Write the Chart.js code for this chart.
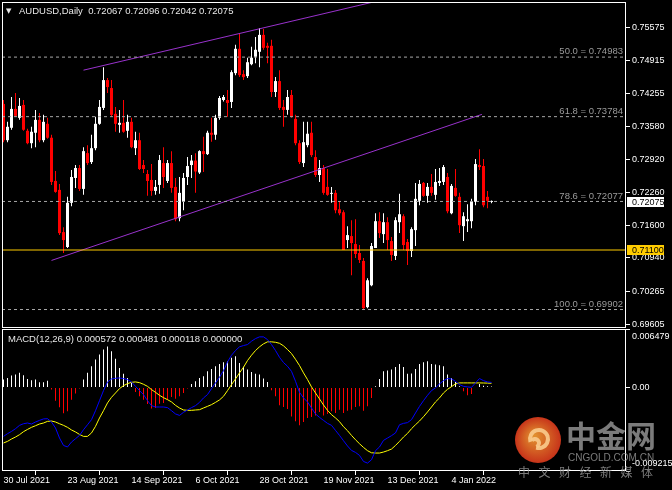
<!DOCTYPE html>
<html>
<head>
<meta charset="utf-8">
<script src="https://cdn.jsdelivr.net/npm/chart.js@4.4.0/dist/chart.umd.min.js"></script>
<style>
    html, body { margin: 0; padding: 0; background: #000; }
    #tela { position: relative; width: 672px; height: 490px; background: #000; overflow: hidden; }
    canvas { position: absolute; left: 0; }
    #precoCanvas { top: 0; }
    #macdCanvas { top: 328px; }
</style>
</head>
<body>
<div id="tela">
    <canvas id="precoCanvas" width="672" height="328"></canvas>
    <canvas id="macdCanvas" width="672" height="162"></canvas>
</div>
<script>
const abertura = [
    0.7404, 0.7331, 0.7356, 0.7394, 0.7376, 0.7402, 0.7350, 0.7325, 0.7346, 0.7372,
    0.7331, 0.7364, 0.7336, 0.7249, 0.7231, 0.7146, 0.7116, 0.7205, 0.7255, 0.7275,
    0.7233, 0.7305, 0.7287, 0.7315, 0.7364, 0.7396, 0.7452, 0.7436, 0.7384, 0.7362,
    0.7366, 0.7350, 0.7368, 0.7315, 0.7331, 0.7281, 0.7263, 0.7251, 0.7229, 0.7241,
    0.7285, 0.7249, 0.7285, 0.7237, 0.7174, 0.7207, 0.7257, 0.7281, 0.7290, 0.7266,
    0.7309, 0.7303, 0.7346, 0.7342, 0.7376, 0.7412, 0.7412, 0.7408, 0.7466, 0.7515,
    0.7464, 0.7460, 0.7484, 0.7499, 0.7509, 0.7543, 0.7521, 0.7521, 0.7428, 0.7450,
    0.7398, 0.7392, 0.7422, 0.7374, 0.7325, 0.7285, 0.7321, 0.7346, 0.7297, 0.7261,
    0.7275, 0.7237, 0.7223, 0.7225, 0.7192, 0.7186, 0.7130, 0.7138, 0.7122, 0.7104,
    0.7088, 0.6995, 0.7039, 0.7114, 0.7168, 0.7142, 0.7166, 0.7128, 0.7098, 0.7166,
    0.7178, 0.7126, 0.7108, 0.7150, 0.7209, 0.7245, 0.7219, 0.7237, 0.7221, 0.7245,
    0.7247, 0.7257, 0.7184, 0.7235, 0.7217, 0.7158, 0.7168, 0.7168, 0.7207, 0.7281,
    0.7279, 0.7217, 0.72067
];
const maxima = [
    0.7412, 0.7368, 0.7418, 0.7426, 0.7416, 0.7412, 0.7354, 0.7358, 0.7392, 0.7386,
    0.7382, 0.7376, 0.7342, 0.7269, 0.7243, 0.7156, 0.7217, 0.7271, 0.7281, 0.7281,
    0.7317, 0.7321, 0.7342, 0.7378, 0.7412, 0.7478, 0.7456, 0.7452, 0.7398, 0.7392,
    0.7412, 0.7382, 0.7376, 0.7348, 0.7346, 0.7291, 0.7271, 0.7283, 0.7251, 0.7301,
    0.7317, 0.7291, 0.7309, 0.7255, 0.7257, 0.7265, 0.7297, 0.7301, 0.7305, 0.7311,
    0.7338, 0.7350, 0.7376, 0.7382, 0.7420, 0.7422, 0.7432, 0.7472, 0.7523, 0.7547,
    0.7472, 0.7497, 0.7519, 0.7539, 0.7557, 0.7555, 0.7527, 0.7533, 0.7458, 0.7472,
    0.7412, 0.7432, 0.7432, 0.7382, 0.7331, 0.7368, 0.7368, 0.7368, 0.7311, 0.7291,
    0.7281, 0.7273, 0.7237, 0.7231, 0.7207, 0.7190, 0.7158, 0.7170, 0.7172, 0.7120,
    0.7094, 0.7053, 0.7124, 0.7184, 0.7186, 0.7184, 0.7176, 0.7136, 0.7176, 0.7223,
    0.7182, 0.7132, 0.7156, 0.7245, 0.7251, 0.7247, 0.7245, 0.7263, 0.7273, 0.7275,
    0.7281, 0.7265, 0.7243, 0.7273, 0.7225, 0.7186, 0.7202, 0.7213, 0.7293, 0.7313,
    0.7293, 0.7229, 0.72096
];
const minima = [
    0.7327, 0.7327, 0.7352, 0.7378, 0.7372, 0.7350, 0.7323, 0.7315, 0.7317, 0.7327,
    0.7327, 0.7334, 0.7241, 0.7225, 0.7140, 0.7104, 0.7114, 0.7198, 0.7235, 0.7229,
    0.7221, 0.7281, 0.7283, 0.7311, 0.7362, 0.7392, 0.7426, 0.7378, 0.7348, 0.7346,
    0.7346, 0.7336, 0.7315, 0.7301, 0.7271, 0.7265, 0.7219, 0.7219, 0.7221, 0.7223,
    0.7235, 0.7245, 0.7225, 0.7168, 0.7168, 0.7190, 0.7241, 0.7255, 0.7225, 0.7263,
    0.7267, 0.7301, 0.7328, 0.7332, 0.7372, 0.7409, 0.7378, 0.7396, 0.7462, 0.7458,
    0.7452, 0.7456, 0.7482, 0.7486, 0.7478, 0.7513, 0.7486, 0.7418, 0.7418, 0.7392,
    0.7358, 0.7382, 0.7376, 0.7321, 0.7283, 0.7277, 0.7317, 0.7297, 0.7257, 0.7247,
    0.7221, 0.7219, 0.7205, 0.7184, 0.7180, 0.7110, 0.7114, 0.7059, 0.7094, 0.7084,
    0.6990, 0.6993, 0.7037, 0.7114, 0.7134, 0.7124, 0.7110, 0.7088, 0.7090, 0.7144,
    0.7110, 0.7080, 0.7096, 0.7118, 0.7200, 0.7217, 0.7205, 0.7219, 0.7211, 0.7239,
    0.7241, 0.7184, 0.7182, 0.7217, 0.7144, 0.7128, 0.7146, 0.7154, 0.7200, 0.7271,
    0.7196, 0.7194, 0.72042
];
const fechamento = [
    0.7331, 0.7358, 0.7394, 0.7380, 0.7400, 0.7352, 0.7325, 0.7348, 0.7372, 0.7331,
    0.7368, 0.7336, 0.7247, 0.7227, 0.7144, 0.7130, 0.7205, 0.7257, 0.7275, 0.7233,
    0.7309, 0.7285, 0.7315, 0.7364, 0.7398, 0.7452, 0.7438, 0.7382, 0.7364, 0.7366,
    0.7348, 0.7368, 0.7317, 0.7331, 0.7273, 0.7273, 0.7249, 0.7229, 0.7237, 0.7291,
    0.7257, 0.7285, 0.7235, 0.7172, 0.7225, 0.7255, 0.7279, 0.7290, 0.7268, 0.7309,
    0.7303, 0.7346, 0.7342, 0.7376, 0.7416, 0.7418, 0.7406, 0.7468, 0.7515, 0.7462,
    0.7458, 0.7488, 0.7497, 0.7513, 0.7543, 0.7517, 0.7517, 0.7428, 0.7450, 0.7396,
    0.7392, 0.7418, 0.7378, 0.7325, 0.7287, 0.7327, 0.7344, 0.7301, 0.7261, 0.7275,
    0.7225, 0.7221, 0.7225, 0.7190, 0.7184, 0.7110, 0.7140, 0.7124, 0.7102, 0.7090,
    0.6993, 0.7049, 0.7118, 0.7168, 0.7144, 0.7166, 0.7130, 0.7100, 0.7170, 0.7182,
    0.7120, 0.7108, 0.7152, 0.7213, 0.7243, 0.7219, 0.7237, 0.7225, 0.7247, 0.7249,
    0.7277, 0.7188, 0.7239, 0.7219, 0.7160, 0.7178, 0.7172, 0.7207, 0.7283, 0.7277,
    0.7200, 0.7209, 0.72075
];

const macdPrincipal = [
    -0.00539, -0.00509, -0.00484, -0.00454, -0.00417, -0.00399, -0.00391, -0.00402, -0.00380, -0.00362,
    -0.00346, -0.00343, -0.00380, -0.00446, -0.00557, -0.00639, -0.00656, -0.00601, -0.00565, -0.00528,
    -0.00465, -0.00410, -0.00354, -0.00255, -0.00144, -0.00033, 0.00063, 0.00096, 0.00103, 0.00107,
    0.00100, 0.00089, 0.00063, 0.00014, -0.00033, -0.00077, -0.00144, -0.00199, -0.00214, -0.00214,
    -0.00214, -0.00221, -0.00255, -0.00291, -0.00307, -0.00273, -0.00247, -0.00221, -0.00199, -0.00163,
    -0.00114, -0.00077, -0.00011, 0.00052, 0.00114, 0.00188, 0.00284, 0.00358, 0.00410, 0.00451,
    0.00465, 0.00476, 0.00513, 0.00542, 0.00561, 0.00561, 0.00531, 0.00476, 0.00410, 0.00335,
    0.00277, 0.00236, 0.00180, 0.00070, -0.00052, -0.00114, -0.00158, -0.00225, -0.00291, -0.00329,
    -0.00362, -0.00395, -0.00417, -0.00473, -0.00528, -0.00587, -0.00645, -0.00694, -0.00716, -0.00749,
    -0.00816, -0.00834, -0.00797, -0.00697, -0.00656, -0.00583, -0.00557, -0.00531, -0.00501, -0.00410,
    -0.00395, -0.00387, -0.00354, -0.00280, -0.00207, -0.00144, -0.00085, -0.00033, -0.00003, 0.00041,
    0.00077, 0.00100, 0.00096, 0.00070, 0.00033, 0.00014, 0.00008, 0.00003, 0.00052, 0.00100,
    0.00077, 0.00063, 0.000572
];
const macdSinal = [
    -0.00612, -0.00594, -0.00568, -0.00546, -0.00520, -0.00487, -0.00462, -0.00439, -0.00421, -0.00402,
    -0.00391, -0.00373, -0.00369, -0.00380, -0.00399, -0.00417, -0.00439, -0.00468, -0.00490, -0.00517,
    -0.00539, -0.00539, -0.00501, -0.00428, -0.00335, -0.00255, -0.00169, -0.00107, -0.00059, -0.00011,
    0.00022, 0.00044, 0.00059, 0.00063, 0.00055, 0.00037, 0.00014, -0.00022, -0.00052, -0.00085,
    -0.00111, -0.00133, -0.00158, -0.00196, -0.00225, -0.00247, -0.00251, -0.00251, -0.00247, -0.00244,
    -0.00225, -0.00207, -0.00188, -0.00163, -0.00136, -0.00096, -0.00033, 0.00033, 0.00096, 0.00163,
    0.00225, 0.00299, 0.00358, 0.00410, 0.00451, 0.00484, 0.00506, 0.00506, 0.00501, 0.00490,
    0.00462, 0.00421, 0.00376, 0.00313, 0.00244, 0.00163, 0.00089, 0.00008, -0.00059, -0.00125,
    -0.00192, -0.00251, -0.00299, -0.00335, -0.00376, -0.00432, -0.00476, -0.00528, -0.00576, -0.00620,
    -0.00661, -0.00697, -0.00720, -0.00723, -0.00723, -0.00712, -0.00697, -0.00679, -0.00639, -0.00594,
    -0.00546, -0.00506, -0.00454, -0.00410, -0.00369, -0.00321, -0.00269, -0.00214, -0.00158, -0.00114,
    -0.00059, -0.00019, 0.00011, 0.00041, 0.00052, 0.00052, 0.00052, 0.00052, 0.00052, 0.00052,
    0.00051, 0.00050, 0.000481
];
const macdHistograma = [
    0.00089, 0.00107, 0.00133, 0.00144, 0.00163, 0.00136, 0.00096, 0.00081, 0.00089, 0.00059,
    0.00059, 0.00077, -0.00022, -0.00144, -0.00218, -0.00284, -0.00262, -0.00133, -0.00066, -0.00011,
    0.00089, 0.00163, 0.00236, 0.00310, 0.00365, 0.00421, 0.00454, 0.00402, 0.00318, 0.00218,
    0.00152, 0.00107, 0.00052, -0.00048, -0.00096, -0.00133, -0.00180, -0.00232, -0.00225, -0.00177,
    -0.00169, -0.00133, -0.00103, -0.00122, -0.00096, -0.00059, -0.00011, 0.00041, 0.00070, 0.00107,
    0.00125, 0.00180, 0.00207, 0.00236, 0.00262, 0.00280, 0.00291, 0.00329, 0.00346, 0.00273,
    0.00232, 0.00199, 0.00174, 0.00152, 0.00144, 0.00100, 0.00063, -0.00030, -0.00096, -0.00196,
    -0.00214, -0.00236, -0.00318, -0.00373, -0.00417, -0.00380, -0.00335, -0.00324, -0.00307, -0.00269,
    -0.00307, -0.00291, -0.00262, -0.00280, -0.00244, -0.00280, -0.00255, -0.00244, -0.00214, -0.00207,
    -0.00255, -0.00207, -0.00114, 0.00014, 0.00096, 0.00180, 0.00188, 0.00199, 0.00229, 0.00262,
    0.00229, 0.00152, 0.00155, 0.00207, 0.00262, 0.00280, 0.00291, 0.00262, 0.00255, 0.00247,
    0.00236, 0.00144, 0.00107, 0.00063, 0.00014, -0.00041, -0.00085, -0.00070, 0.00008, 0.00041,
    0.00022, 0.00014, 0.000118
];

const datasEixo = ["30 Jul 2021", "23 Aug 2021", "14 Sep 2021", "6 Oct 2021", "28 Oct 2021", "19 Nov 2021", "13 Dec 2021", "4 Jan 2022"];
const indicesDatas = [0, 16, 32, 48, 64, 80, 96, 112];
const ticksPreco = [0.75575, 0.74915, 0.74255, 0.73580, 0.72920, 0.72260, 0.71600, 0.70940, 0.70265, 0.69605];
const ticksMacd = [-0.009215, 0, 0.006479];

const niveisFibo = ["50.0", "61.8", "78.6", "100.0"];
const precosFibo = [0.74983, 0.73784, 0.72077, 0.69902];
const linhaHorizontal = 0.71100;
const precoAtual = 0.72075;
const canalSuperior = [[20, 0.7472], [95, 0.7614]];
const canalInferior = [[12, 0.7089], [119.6, 0.7383]];

// faixas dos eixos
const X_MIN = -0.375;
const X_MAX = 155.625;
const PRECO_MIN = 0.69530;
const PRECO_MAX = 0.76092;

const COR_ALTA = "#ffffff";
const COR_BAIXA = "#ff0000";
const FONTE = "Liberation Sans";

Chart.defaults.font.family = FONTE;
Chart.defaults.font.size = 9;
Chart.defaults.color = "#ffffff";

const indices = abertura.map((_, i) => i);

function corCandle(ctx) {
    const i = ctx.dataIndex;
    return fechamento[i] >= abertura[i] ? COR_ALTA : COR_BAIXA;
}

function linhaReta(pontos, cor, extra) {
    return Object.assign({
        type: "line",
        data: pontos.map(p => ({ x: p[0], y: p[1] })),
        borderColor: cor,
        borderWidth: 1,
        pointRadius: 0,
        tension: 0,
        order: -1
    }, extra || {});
}

const moldura = {
    id: "moldura",
    afterDraw(chart) {
        const { ctx, chartArea: a } = chart;
        ctx.save();
        ctx.strokeStyle = "#ffffff";
        ctx.lineWidth = 1;
        ctx.strokeRect(a.left + 0.5, a.top + 0.5, a.right - a.left - 1, a.bottom - a.top - 1);
        ctx.restore();
    }
};

const textosPreco = {
    id: "textosPreco",
    afterDraw(chart) {
        const { ctx, chartArea: a } = chart;
        const y = chart.scales.y;
        ctx.save();

        // titulo
        ctx.fillStyle = "#e8e8e8";
        ctx.textBaseline = "middle";
        ctx.textAlign = "left";
        ctx.font = "7px 'DejaVu Sans'";
        ctx.fillText("▼", 6, 11);
        ctx.font = "9.5px '" + FONTE + "'";
        ctx.fillText("AUDUSD,Daily  0.72067 0.72096 0.72042 0.72075", 19, 11);

        // niveis de fibonacci
        ctx.fillStyle = "#9a9a9a";
        ctx.textAlign = "right";
        niveisFibo.forEach((nivel, k) => {
            const py = y.getPixelForValue(precosFibo[k]);
            ctx.fillText(nivel + " = " + precosFibo[k].toFixed(5), a.right - 3, py - 5.5);
        });

        // caixas de preco no eixo
        ctx.textAlign = "left";
        const caixas = [[precoAtual, "#ffffff"], [linhaHorizontal, "#ffcc00"]];
        caixas.forEach(([valor, fundo]) => {
            const py = y.getPixelForValue(valor);
            ctx.fillStyle = fundo;
            ctx.fillRect(a.right + 1, Math.round(py) - 5, 37, 10);
            ctx.fillStyle = "#000000";
            ctx.font = "9px '" + FONTE + "'";
            ctx.fillText(valor.toFixed(5), a.right + 6, py + 0.5);
        });
        ctx.restore();
    }
};

const textosMacd = {
    id: "textosMacd",
    afterDraw(chart) {
        const { ctx } = chart;
        ctx.save();
        ctx.fillStyle = "#e8e8e8";
        ctx.textBaseline = "middle";
        ctx.textAlign = "left";
        ctx.font = "9.5px '" + FONTE + "'";
        ctx.fillText("MACD(12,26,9) 0.000572 0.000481 0.000118 0.000000", 8, 11);

        // marca d'agua
        const cx = 538, cy = 112, r = 23;
        const grad = ctx.createRadialGradient(cx - 4, cy - 4, 2, cx, cy, r);
        grad.addColorStop(0, "#f49a32");
        grad.addColorStop(1, "#d8381c");
        ctx.globalAlpha = 0.92;
        ctx.fillStyle = grad;
        ctx.beginPath();
        ctx.arc(cx, cy, r, 0, Math.PI * 2);
        ctx.fill();
        ctx.strokeStyle = "#f8c98a";
        ctx.lineWidth = 4;
        ctx.beginPath();
        ctx.arc(cx + 1, cy - 1, 9, Math.PI * 0.9, Math.PI * 2.6);
        ctx.stroke();
        ctx.beginPath();
        ctx.arc(cx - 3, cy + 3, 4, Math.PI * 1.2, Math.PI * 2.4);
        ctx.stroke();

        ctx.globalAlpha = 0.8;
        ctx.fillStyle = "#9a9a9a";
        ctx.font = "bold 30px 'Noto Sans CJK SC'";
        ctx.fillText("中金网", 566, 108);
        ctx.font = "10px '" + FONTE + "'";
        ctx.fillText("CNGOLD.COM.CN", 568, 130);
        ctx.font = "12px 'Noto Sans CJK SC'";
        "中文财经新媒体".split("").forEach((c, k) => {
            ctx.fillText(c, 518 + k * 20.5, 144);
        });
        ctx.restore();
    }
};

new Chart(document.getElementById("precoCanvas"), {
    type: "bar",
    data: {
        datasets: [
            {
                label: "corpo",
                data: indices.map(i => ({ x: i, y: [abertura[i], fechamento[i]] })),
                backgroundColor: corCandle,
                barThickness: 3,
                minBarLength: 1,
                inflateAmount: 0,
                grouped: false,
                order: 0
            },
            {
                label: "pavio",
                data: indices.map(i => ({ x: i, y: [minima[i], maxima[i]] })),
                backgroundColor: corCandle,
                barThickness: 1,
                minBarLength: 1,
                inflateAmount: 0,
                grouped: false,
                order: 1
            },
            ...precosFibo.map(p => linhaReta([[X_MIN, p], [X_MAX, p]], "#a8a8a8", { borderDash: [3, 3] })),
            linhaReta([[X_MIN, linhaHorizontal], [X_MAX, linhaHorizontal]], "#ffcc00"),
            linhaReta(canalSuperior, "#9932cc"),
            linhaReta(canalInferior, "#9932cc")
        ]
    },
    options: {
        responsive: false,
        animation: false,
        devicePixelRatio: 1,
        events: [],
        layout: { padding: { left: 2, top: 2, right: 0, bottom: 0 } },
        plugins: { legend: { display: false }, tooltip: { enabled: false } },
        scales: {
            x: { type: "linear", display: false, min: X_MIN, max: X_MAX, offset: false },
            y: {
                position: "right",
                min: PRECO_MIN,
                max: PRECO_MAX,
                beginAtZero: false,
                afterBuildTicks: s => { s.ticks = ticksPreco.map(v => ({ value: v })); },
                afterFit: s => { s.width = 46; s.paddingTop = 0; s.paddingBottom = 0; },
                ticks: { callback: v => v.toFixed(5), padding: 2, autoSkip: false, color: "#ffffff" },
                grid: { drawOnChartArea: false, drawTicks: true, tickLength: 4, color: "#ffffff" },
                border: { display: false }
            }
        }
    },
    plugins: [moldura, textosPreco]
});

new Chart(document.getElementById("macdCanvas"), {
    type: "bar",
    data: {
        datasets: [
            {
                label: "MACD",
                type: "line",
                data: indices.map(i => ({ x: i, y: macdPrincipal[i] })),
                borderColor: "#0000ff",
                borderWidth: 1,
                pointRadius: 0,
                tension: 0,
                order: 0
            },
            {
                label: "Sinal",
                type: "line",
                data: indices.map(i => ({ x: i, y: macdSinal[i] })),
                borderColor: "#ffff00",
                borderWidth: 1,
                pointRadius: 0,
                tension: 0,
                order: 1
            },
            {
                label: "Histograma",
                data: indices.map(i => ({ x: i, y: macdHistograma[i] })),
                backgroundColor: ctx => macdHistograma[ctx.dataIndex] >= 0 ? COR_ALTA : COR_BAIXA,
                barThickness: 1,
                inflateAmount: 0,
                grouped: false,
                order: 2
            }
        ]
    },
    options: {
        responsive: false,
        animation: false,
        devicePixelRatio: 1,
        events: [],
        layout: { padding: { left: 2, top: 1, right: 0, bottom: 0 } },
        plugins: { legend: { display: false }, tooltip: { enabled: false } },
        scales: {
            x: {
                type: "linear",
                min: X_MIN,
                max: X_MAX,
                offset: false,
                afterBuildTicks: s => { s.ticks = indicesDatas.map(v => ({ value: v })); },
                afterFit: s => { s.height = 19; s.paddingLeft = 0; s.paddingRight = 0; },
                ticks: {
                    callback: (v, idx) => datasEixo[idx],
                    align: "start",
                    maxRotation: 0,
                    autoSkip: false,
                    padding: 0,
                    color: "#ffffff"
                },
                grid: { drawOnChartArea: false, drawTicks: true, tickLength: 4, color: "#ffffff" },
                border: { display: false }
            },
            y: {
                position: "right",
                min: ticksMacd[0],
                max: ticksMacd[2],
                beginAtZero: false,
                afterBuildTicks: s => { s.ticks = ticksMacd.map(v => ({ value: v })); },
                afterFit: s => { s.width = 46; s.paddingTop = 0; s.paddingBottom = 0; },
                ticks: {
                    // rotulos das pontas ficam para dentro do painel, como no MT4
                    callback: v => {
                        if (v === ticksMacd[2]) return ["", v.toFixed(6)];
                        if (v === ticksMacd[0]) return [v.toFixed(6), ""];
                        return "0.00";
                    },
                    font: { size: 9, lineHeight: 1.6 },
                    padding: 2,
                    autoSkip: false,
                    color: "#ffffff"
                },
                grid: { drawOnChartArea: false, drawTicks: true, tickLength: 4, color: "#ffffff" },
                border: { display: false }
            }
        }
    },
    plugins: [moldura, textosMacd]
});
</script>
</body>
</html>
